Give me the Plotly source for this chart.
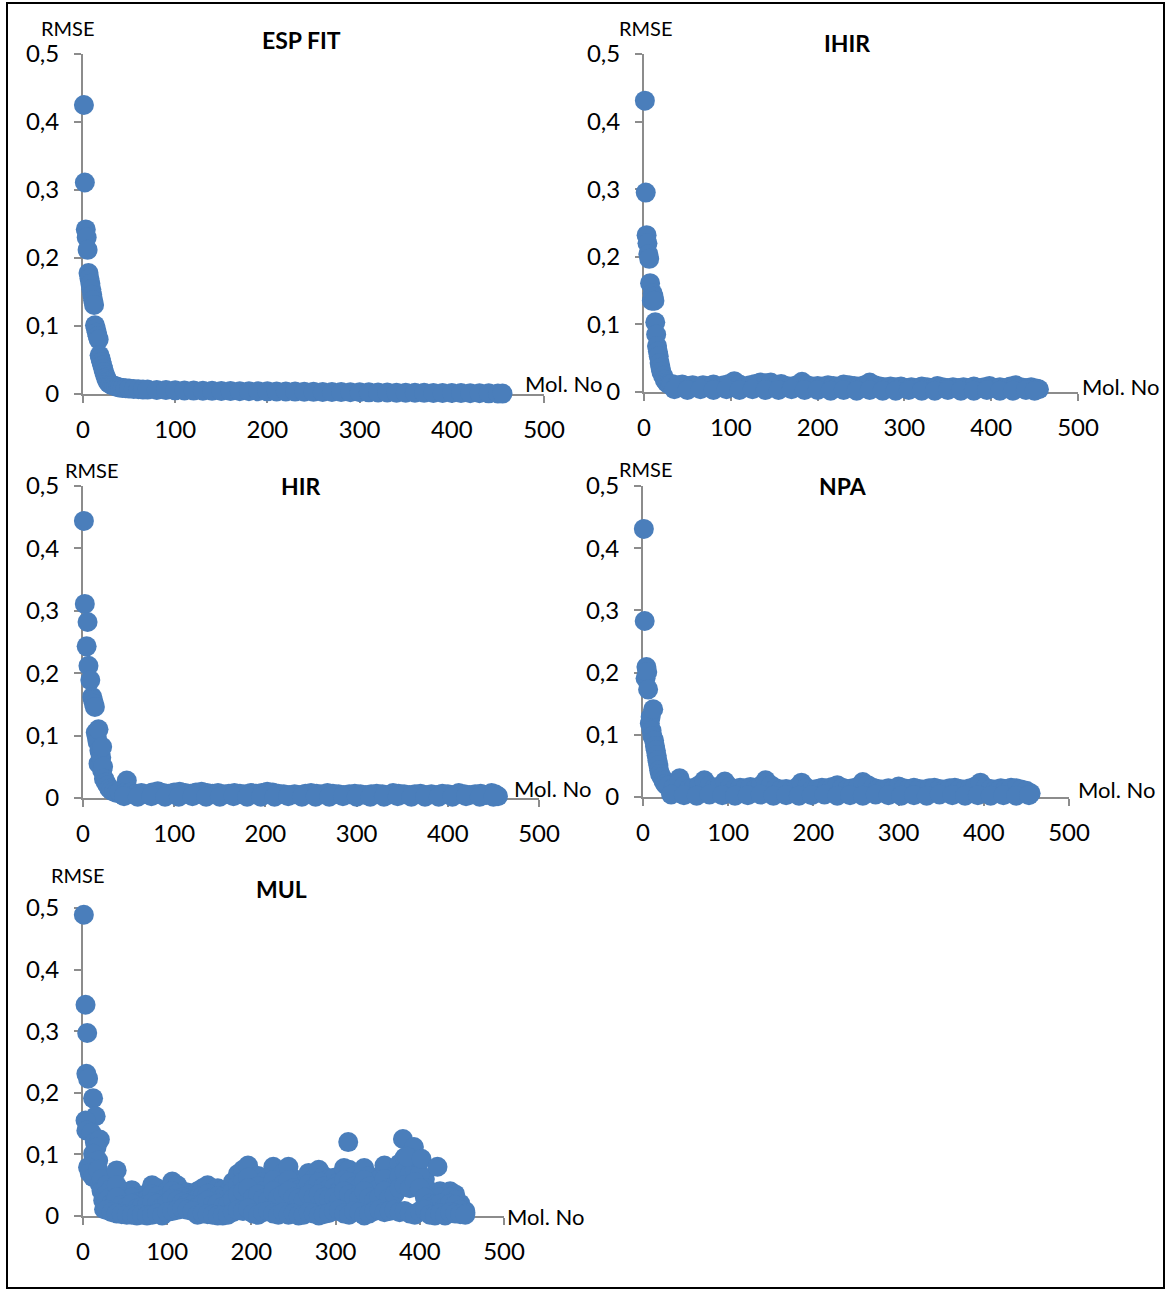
import plotly.graph_objects as go

W, H = 1168, 1291
BLUE = "#4a7ebb"
AXIS = "#8c8c8c"
FONT = "Lato, 'Open Sans', sans-serif"

# ---------------- tick labels / texts ----------------
x_tickvals = [0, 100, 200, 300, 400, 500]
x_ticktext = ["0", "100", "200", "300", "400", "500"]
y_tickvals = [0, 0.1, 0.2, 0.3, 0.4, 0.5]
y_ticktext = ["0", "0,1", "0,2", "0,3", "0,4", "0,5"]
panel_titles = ["ESP FIT", "IHIR", "HIR", "NPA", "MUL"]
x_axis_label = "Mol. No"
y_axis_label = "RMSE"

# ---------------- ESP FIT ----------------
esp_x = [1, 2, 3, 4, 5, 6, 7, 8, 9, 10, 11, 12, 13, 14, 15, 16, 17, 18, 19, 20,
         21, 22, 23, 24, 25, 26, 27, 28, 30, 32, 34, 36, 38, 40, 43, 46, 50, 55, 60, 65, 70,
         80, 90, 100, 110, 120, 130, 140, 150, 160, 170, 180, 190, 200, 210, 220, 230,
         240, 250, 260, 270, 280, 290, 300, 310, 320, 330, 340, 350, 360, 370, 380, 390,
         400, 410, 420, 430, 440, 450, 455]
esp_y = [0.425, 0.311, 0.242, 0.230, 0.212, 0.178, 0.170, 0.162, 0.154, 0.146,
         0.138, 0.131, 0.101, 0.096, 0.090, 0.085, 0.080, 0.057, 0.052, 0.047,
         0.042, 0.037, 0.032, 0.028, 0.024, 0.021, 0.018, 0.016, 0.014, 0.013,
         0.012, 0.011, 0.010, 0.0095, 0.009, 0.0085, 0.008, 0.0075, 0.007, 0.0068, 0.0065,
         0.006, 0.0057, 0.0054, 0.0052, 0.005, 0.0048, 0.0046, 0.0044, 0.0043, 0.0042,
         0.0041, 0.004, 0.0039, 0.0037, 0.0036, 0.0035, 0.0033, 0.0032, 0.003, 0.0029,
         0.0028, 0.0026, 0.0025, 0.0024, 0.0023, 0.0022, 0.002, 0.0019, 0.0018, 0.0017,
         0.0016, 0.0015, 0.0014, 0.0013, 0.0012, 0.0011, 0.001, 0.0008, 0.0006]

# ---------------- IHIR ----------------
ihir_x_head = [1, 2, 3, 4, 5, 6, 7, 9, 10, 11, 12, 13, 14, 15, 16, 17, 18, 19, 20, 22, 24, 26, 28, 30]
ihir_y_head = [0.431, 0.295, 0.232, 0.220, 0.204, 0.197, 0.161, 0.135, 0.146, 0.141, 0.135, 0.103,
               0.085, 0.068, 0.060, 0.053, 0.043, 0.036, 0.030, 0.024, 0.018, 0.014, 0.012, 0.011]
ihir_x_band = [32, 38, 44, 50, 56, 62, 68, 74, 80, 86, 92, 98, 104, 110, 116, 122, 128, 134, 140, 146,
               152, 158, 164, 170, 176, 182, 188, 194, 200, 206, 212, 218, 224, 230, 236, 242, 248,
               254, 260, 266, 272, 278, 284, 290, 296, 302, 308, 314, 320, 326, 332, 338, 344, 350,
               356, 362, 368, 374, 380, 386, 392, 398, 404, 410, 416, 422, 428, 434, 440, 446, 452, 455]
ihir_y_band = [0.012, 0.010, 0.011, 0.009, 0.010, 0.008, 0.010, 0.009, 0.011, 0.008,
               0.010, 0.012, 0.016, 0.011, 0.008, 0.010, 0.012, 0.014, 0.013, 0.014,
               0.010, 0.012, 0.009, 0.008, 0.010, 0.015, 0.010, 0.008, 0.009, 0.008,
               0.010, 0.009, 0.008, 0.011, 0.010, 0.009, 0.008, 0.010, 0.014, 0.010,
               0.008, 0.007, 0.008, 0.007, 0.008, 0.006, 0.007, 0.006, 0.008, 0.007,
               0.006, 0.009, 0.007, 0.006, 0.007, 0.006, 0.007, 0.006, 0.008, 0.006,
               0.007, 0.009, 0.006, 0.007, 0.006, 0.008, 0.010, 0.007, 0.006, 0.007,
               0.005, 0.004]
ihir_x_low = [35, 50, 65, 80, 95, 110, 125, 140, 155, 170, 185, 200, 215, 230, 245, 260, 275, 290,
              305, 320, 335, 350, 365, 380, 395, 410, 425, 440, 450]
ihir_y_low = [0.004, 0.003, 0.004, 0.003, 0.004, 0.003, 0.004, 0.003, 0.003, 0.004, 0.003, 0.003,
              0.002, 0.003, 0.002, 0.003, 0.002, 0.002, 0.003, 0.002, 0.002, 0.003, 0.002, 0.002,
              0.003, 0.002, 0.002, 0.003, 0.002]

# ---------------- HIR ----------------
hir_x_head = [1, 2, 4, 5, 6, 8, 10, 11, 12, 13, 14, 15, 16, 17, 17, 18, 19, 20, 21, 21,
              22, 23, 25, 27, 29, 31, 34, 37, 48]
hir_y_head = [0.444, 0.311, 0.243, 0.282, 0.212, 0.189, 0.162, 0.157, 0.151, 0.146,
              0.105, 0.098, 0.090, 0.110, 0.055, 0.076, 0.071, 0.065, 0.082, 0.044,
              0.050, 0.031, 0.025, 0.020, 0.015, 0.012, 0.010, 0.008, 0.028]
hir_x_band = [40, 46, 52, 58, 64, 70, 76, 82, 88, 94, 100, 106, 112, 118, 124, 130, 136, 142, 148,
              154, 160, 166, 172, 178, 184, 190, 196, 202, 208, 214, 220, 226, 232, 238, 244, 250,
              256, 262, 268, 274, 280, 286, 292, 298, 304, 310, 316, 322, 328, 334, 340, 346, 352,
              358, 364, 370, 376, 382, 388, 394, 400, 406, 412, 418, 424, 430, 436, 442, 448, 452, 455]
hir_y_band = [0.010, 0.008, 0.009, 0.007, 0.008, 0.006, 0.009, 0.011, 0.008, 0.007,
              0.009, 0.010, 0.008, 0.007, 0.009, 0.010, 0.008, 0.007, 0.008, 0.006,
              0.007, 0.008, 0.007, 0.006, 0.008, 0.007, 0.008, 0.010, 0.009, 0.007,
              0.006, 0.005, 0.006, 0.005, 0.007, 0.008, 0.007, 0.006, 0.008, 0.007,
              0.006, 0.005, 0.006, 0.007, 0.006, 0.005, 0.006, 0.007, 0.006, 0.005,
              0.008, 0.007, 0.006, 0.005, 0.006, 0.007, 0.005, 0.006, 0.005, 0.007,
              0.006, 0.005, 0.008, 0.006, 0.005, 0.006, 0.007, 0.005, 0.008, 0.006,
              0.003]
hir_x_low = [45, 60, 75, 90, 105, 120, 135, 150, 165, 180, 195, 210, 225, 240, 255, 270, 285, 300,
             315, 330, 345, 360, 375, 390, 405, 420, 435, 450]
hir_y_low = [0.003, 0.002, 0.003, 0.002, 0.002, 0.003, 0.002, 0.002, 0.003, 0.002, 0.002, 0.002,
             0.003, 0.002, 0.002, 0.002, 0.003, 0.002, 0.002, 0.002, 0.003, 0.002, 0.002, 0.002,
             0.002, 0.003, 0.002, 0.002]

# ---------------- NPA ----------------
npa_x_head = [1, 2, 3, 4, 5, 6, 8, 9, 10, 11, 12, 13, 14, 15, 16, 17, 18, 19, 20, 22, 24, 26, 28, 43]
npa_y_head = [0.431, 0.283, 0.191, 0.209, 0.201, 0.173, 0.118, 0.129, 0.107, 0.098, 0.141, 0.091,
              0.082, 0.075, 0.067, 0.059, 0.051, 0.043, 0.037, 0.032, 0.026, 0.021, 0.018, 0.030]
npa_x_band = [30, 36, 42, 48, 54, 60, 66, 72, 78, 84, 90, 96, 102, 108, 114, 120, 126, 132, 138, 144,
              150, 156, 162, 168, 174, 180, 186, 192, 198, 204, 210, 216, 222, 228, 234, 240, 246,
              252, 258, 264, 270, 276, 282, 288, 294, 300, 306, 312, 318, 324, 330, 336, 342, 348,
              354, 360, 366, 372, 378, 384, 390, 396, 402, 408, 414, 420, 426, 432, 438, 444, 450, 455]
npa_y_band = [0.018, 0.015, 0.023, 0.017, 0.013, 0.015, 0.019, 0.027, 0.018, 0.014,
              0.017, 0.025, 0.016, 0.013, 0.015, 0.014, 0.016, 0.013, 0.018, 0.027,
              0.019, 0.014, 0.012, 0.013, 0.011, 0.015, 0.023, 0.015, 0.011, 0.013,
              0.015, 0.014, 0.016, 0.019, 0.015, 0.013, 0.014, 0.016, 0.024, 0.019,
              0.015, 0.013, 0.012, 0.014, 0.013, 0.017, 0.014, 0.013, 0.015, 0.013,
              0.012, 0.014, 0.015, 0.013, 0.012, 0.014, 0.015, 0.013, 0.012, 0.014,
              0.017, 0.023, 0.015, 0.013, 0.012, 0.014, 0.013, 0.015, 0.014, 0.012,
              0.010, 0.006]
npa_x_low = [33, 48, 63, 78, 93, 108, 123, 138, 153, 168, 183, 198, 213, 228, 243, 258, 273, 288,
             303, 318, 333, 348, 363, 378, 393, 408, 423, 438, 453]
npa_y_low = [0.004, 0.003, 0.002, 0.004, 0.003, 0.002, 0.003, 0.004, 0.002, 0.003, 0.002, 0.003,
             0.004, 0.002, 0.003, 0.002, 0.004, 0.003, 0.002, 0.003, 0.002, 0.004, 0.003, 0.002,
             0.003, 0.002, 0.003, 0.002, 0.003]

# ---------------- MUL ----------------
mul_x_head = [1, 3, 5, 4, 6, 12, 15, 3, 4, 10, 14, 20, 16, 12, 18, 6, 8, 12, 18, 20, 22, 22, 24, 25]
mul_y_head = [0.489, 0.343, 0.297, 0.231, 0.223, 0.191, 0.162, 0.155, 0.139, 0.135, 0.120, 0.124,
              0.111, 0.101, 0.090, 0.079, 0.070, 0.063, 0.075, 0.052, 0.060, 0.041, 0.025, 0.011]
mul_x_cloud = [28, 34, 40, 46, 52, 58, 64, 70, 76, 82, 88, 94, 100, 106, 112, 118, 124, 130, 136, 142,
               148, 154, 160, 166, 172, 178, 184, 190, 196, 202, 208, 214, 220, 226, 232, 238, 244,
               250, 256, 262, 268, 274, 280, 286, 292, 298, 304, 310, 316, 322, 328, 334, 340, 346,
               352, 358, 364, 370, 376, 382, 388, 394, 400, 406, 412, 418, 424, 430, 436, 442, 448, 454]
mul_y_high = [0.050, 0.045, 0.074, 0.040, 0.038, 0.042, 0.030, 0.032, 0.036, 0.050,
              0.045, 0.035, 0.040, 0.056, 0.050, 0.040, 0.038, 0.035, 0.040, 0.045,
              0.050, 0.040, 0.045, 0.042, 0.038, 0.055, 0.068, 0.075, 0.082, 0.060,
              0.065, 0.055, 0.045, 0.080, 0.060, 0.070, 0.080, 0.060, 0.058, 0.055,
              0.070, 0.060, 0.075, 0.065, 0.060, 0.062, 0.055, 0.078, 0.075, 0.065,
              0.060, 0.078, 0.065, 0.055, 0.060, 0.082, 0.060, 0.065, 0.085, 0.095,
              0.090, 0.100, 0.090, 0.060, 0.040, 0.035, 0.040, 0.030, 0.040, 0.035,
              0.020, 0.008]
mul_y_upper = [0.035, 0.032, 0.050, 0.030, 0.028, 0.030, 0.022, 0.024, 0.027, 0.035,
               0.032, 0.026, 0.030, 0.040, 0.036, 0.030, 0.028, 0.026, 0.028, 0.032,
               0.036, 0.030, 0.032, 0.030, 0.028, 0.040, 0.050, 0.056, 0.062, 0.045,
               0.048, 0.040, 0.035, 0.058, 0.045, 0.052, 0.058, 0.045, 0.042, 0.040,
               0.052, 0.045, 0.055, 0.048, 0.045, 0.046, 0.040, 0.058, 0.055, 0.048,
               0.045, 0.058, 0.048, 0.040, 0.045, 0.060, 0.045, 0.048, 0.065, 0.072,
               0.068, 0.075, 0.068, 0.045, 0.030, 0.026, 0.030, 0.022, 0.030, 0.026,
               0.014, 0.006]
mul_y_mid = [0.025, 0.020, 0.030, 0.018, 0.015, 0.020, 0.012, 0.015, 0.018, 0.022,
             0.020, 0.015, 0.020, 0.028, 0.025, 0.022, 0.020, 0.018, 0.015, 0.020,
             0.025, 0.018, 0.020, 0.015, 0.018, 0.028, 0.035, 0.040, 0.045, 0.030,
             0.035, 0.028, 0.025, 0.040, 0.030, 0.035, 0.040, 0.030, 0.028, 0.025,
             0.035, 0.030, 0.035, 0.030, 0.028, 0.030, 0.025, 0.040, 0.035, 0.030,
             0.028, 0.040, 0.030, 0.025, 0.030, 0.040, 0.030, 0.035, 0.045, 0.050,
             0.045, 0.055, 0.045, 0.030, 0.020, 0.018, 0.020, 0.015, 0.020, 0.018,
             0.010, 0.004]
mul_y_low = [0.010, 0.006, 0.004, 0.003, 0.002, 0.002, 0.001, 0.002, 0.001, 0.002,
             0.004, 0.001, 0.006, 0.008, 0.010, 0.012, 0.010, 0.008, 0.002, 0.004,
             0.003, 0.002, 0.001, 0.001, 0.002, 0.006, 0.010, 0.008, 0.012, 0.004,
             0.002, 0.006, 0.008, 0.004, 0.002, 0.006, 0.002, 0.004, 0.001, 0.002,
             0.006, 0.004, 0.001, 0.003, 0.005, 0.008, 0.010, 0.004, 0.002, 0.008,
             0.006, 0.001, 0.004, 0.008, 0.010, 0.006, 0.008, 0.010, 0.006, 0.008,
             0.004, 0.002, 0.008, 0.010, 0.002, 0.001, 0.004, 0.001, 0.006, 0.004,
             0.003, 0.002]
mul_x_out = [315, 380, 393, 385, 402, 421]
mul_y_out = [0.120, 0.125, 0.112, 0.096, 0.093, 0.080]

series = [
    (esp_x, esp_y),
    (ihir_x_head + ihir_x_band + ihir_x_low, ihir_y_head + ihir_y_band + ihir_y_low),
    (hir_x_head + hir_x_band + hir_x_low, hir_y_head + hir_y_band + hir_y_low),
    (npa_x_head + npa_x_band + npa_x_low, npa_y_head + npa_y_band + npa_y_low),
    (mul_x_head + mul_x_cloud * 4 + mul_x_out,
     mul_y_head + mul_y_high + mul_y_upper + mul_y_mid + mul_y_low + mul_y_out),
]

# ---------------- layout geometry (pixels) ----------------
geom = [
    dict(x0=83, x1=544, yt=54, yb=394, rmse=(68, 28), title=(301, 40), mol=(523, 384)),
    dict(x0=644, x1=1078, yt=54, yb=392, rmse=(646, 28), title=(847, 43), mol=(1080, 386)),
    dict(x0=83, x1=539, yt=486, yb=798, rmse=(92, 470), title=(301, 486), mol=(512, 788)),
    dict(x0=643, x1=1069, yt=486, yb=797, rmse=(646, 469), title=(843, 486), mol=(1076, 789)),
    dict(x0=83, x1=504, yt=908, yb=1216, rmse=(78, 875), title=(281, 889), mol=(505, 1216)),
]


def px(v):
    return v / W


def py(v):
    return 1 - v / H


fig = go.Figure()
annotations = []
layout_axes = {}
for i, ((xs, ys), g, title) in enumerate(zip(series, geom, panel_titles)):
    n = i + 1
    xa = "x" if n == 1 else f"x{n}"
    ya = "y" if n == 1 else f"y{n}"
    fig.add_trace(go.Scatter(
        x=xs, y=ys, mode="markers", xaxis=xa, yaxis=ya,
        marker=dict(size=20, color=BLUE, line=dict(width=0)),
        cliponaxis=False, showlegend=False, hoverinfo="skip"))
    common = dict(showline=True, linecolor=AXIS, linewidth=2, ticks="outside",
                  tickcolor=AXIS, tickwidth=2, ticklen=7, showgrid=False, zeroline=False,
                  tickfont=dict(family=FONT, size=24, color="#000000"),
                  layer="below traces", fixedrange=True, automargin=False)
    layout_axes["xaxis" if n == 1 else f"xaxis{n}"] = dict(
        domain=[px(g["x0"]), px(g["x1"])], anchor=ya, range=[0, 500],
        tickmode="array", tickvals=x_tickvals, ticktext=x_ticktext,
        ticklabelstandoff=6, **common)
    layout_axes["yaxis" if n == 1 else f"yaxis{n}"] = dict(
        domain=[py(g["yb"]), py(g["yt"])], anchor=xa, range=[0, 0.5],
        tickmode="array", tickvals=y_tickvals, ticktext=y_ticktext,
        ticklabelstandoff=10, **common)
    annotations.append(dict(text=y_axis_label, x=px(g["rmse"][0]), y=py(g["rmse"][1]),
                            xref="paper", yref="paper", xanchor="center", yanchor="middle",
                            showarrow=False, font=dict(family=FONT, size=20, color="#000000")))
    annotations.append(dict(text=f"<b>{title}</b>", x=px(g["title"][0]), y=py(g["title"][1]),
                            xref="paper", yref="paper", xanchor="center", yanchor="middle",
                            showarrow=False, font=dict(family=FONT, size=23, color="#000000")))
    annotations.append(dict(text=x_axis_label, x=px(g["mol"][0]), y=py(g["mol"][1]),
                            xref="paper", yref="paper", xanchor="left", yanchor="middle",
                            showarrow=False, font=dict(family=FONT, size=22, color="#000000")))

fig.update_layout(
    width=W, height=H, margin=dict(l=0, r=0, t=0, b=0, autoexpand=False),
    paper_bgcolor="white", plot_bgcolor="white", showlegend=False,
    annotations=annotations,
    shapes=[dict(type="rect", xref="paper", yref="paper",
                 x0=px(7), x1=px(1164), y0=py(1288), y1=py(3),
                 line=dict(color="black", width=2), fillcolor="rgba(0,0,0,0)")],
    **layout_axes)

fig.write_html("out.html", config={"displayModeBar": False})
